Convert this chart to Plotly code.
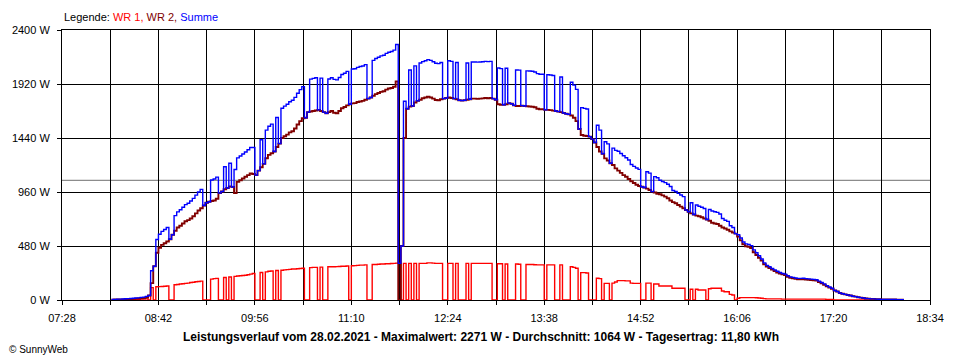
import plotly.graph_objects as go

# ---------------- data ----------------
START_MIN = 8 * 60 + 6      # first sample 08:06
STEP_MIN = 2                # sampling step in minutes

# WR 2 (dark red), W
wr2 = [
    3, 4, 5, 5, 6, 7, 8, 9, 10, 12,
    13, 15, 18, 22, 40, 150, 300, 420, 465, 490,
    505, 520, 540, 580, 615, 645, 660, 680, 700, 710,
    725, 745, 770, 795, 815, 840, 865, 874, 880, 885,
    900, 950, 965, 985, 995, 1010, 1005, 950, 1050, 1065,
    1080, 1095, 1110, 1125, 1120, 1110, 1150, 1180, 1210, 1260,
    1290, 1305, 1320, 1360, 1390, 1440, 1455, 1470, 1490, 1500,
    1525, 1560, 1590, 1615, 1620, 1670, 1675, 1680, 1685, 1690,
    1680, 1670, 1660, 1670, 1680, 1665, 1660, 1680, 1705, 1715,
    1730, 1740, 1748, 1750, 1760, 1765, 1770, 1780, 1790, 1800,
    1815, 1830, 1840, 1850, 1855, 1870, 1880, 1885, 1895, 1943,
    0, 480, 1440, 1700, 1719, 1724, 1755, 1770, 1780, 1793,
    1800, 1807, 1800, 1790, 1778, 1775, 1785, 1790, 1795, 1800,
    1795, 1790, 1785, 1775, 1772, 1775, 1780, 1785, 1790, 1790,
    1788, 1790, 1792, 1795, 1793, 1795, 1790, 1780, 1740, 1735,
    1735, 1740, 1750, 1745, 1730, 1725, 1725, 1728, 1724, 1722,
    1720, 1718, 1713, 1700, 1695, 1695, 1690, 1690, 1688, 1683,
    1680, 1674, 1670, 1662, 1655, 1650, 1640, 1620, 1590, 1520,
    1467, 1460, 1458, 1452, 1430, 1400, 1360, 1320, 1300, 1259,
    1240, 1215, 1200, 1170, 1150, 1130, 1110, 1095, 1075, 1055,
    1040, 1025, 1013, 1007, 1000, 990, 978, 963, 955, 945,
    940, 930, 919, 905, 885, 870, 860, 844, 830, 815,
    800, 785, 770, 760, 750, 745, 735, 725, 715, 705,
    687, 680, 675, 660, 645, 635, 625, 610, 600, 590,
    565, 530, 495, 478, 472, 462, 425, 400, 375, 350,
    318, 298, 285, 270, 258, 245, 235, 228, 222, 207,
    198, 193, 188, 184, 184, 185, 182, 180, 178, 175,
    172, 160, 148, 135, 122, 110, 100, 85, 75, 62,
    55, 50, 45, 40, 33, 30, 25, 21, 18, 14,
    12, 10, 10, 8, 7, 6, 5, 5, 4, 4,
    4, 3, 3, 3, 3,
]

# WR 1 (red), W
wr1 = [
    2, 2, 3, 3, 3, 4, 4, 5, 5, 6,
    6, 8, 8, 10, 0, 110, 0, 118, 119, 120,
    122, 125, 0, 0, 135, 138, 142, 145, 148, 150,
    155, 158, 162, 165, 168, 0, 0, 0, 186, 190,
    192, 0, 0, 200, 0, 205, 0, 210, 213, 215,
    218, 220, 225, 230, 235, 0, 0, 245, 0, 250,
    255, 258, 0, 262, 0, 265, 268, 270, 272, 275,
    276, 278, 280, 282, 0, 0, 288, 290, 290, 0,
    292, 0, 0, 295, 296, 296, 297, 298, 300, 300,
    302, 0, 305, 306, 308, 310, 310, 312, 0, 0,
    315, 316, 318, 320, 320, 322, 322, 324, 326, 328,
    326, 0, 326, 0, 326, 0, 326, 0, 326, 326,
    326, 330, 330, 328, 326, 326, 326, 0, 0, 326,
    326, 0, 326, 0, 0, 0, 326, 0, 326, 326,
    326, 326, 326, 326, 326, 326, 0, 0, 322, 322,
    0, 320, 0, 0, 0, 320, 318, 0, 0, 315,
    315, 315, 313, 312, 312, 312, 0, 312, 312, 312,
    0, 0, 312, 0, 0, 0, 296, 290, 282, 0,
    243, 243, 240, 0, 0, 0, 193, 190, 0, 148,
    148, 0, 150, 160, 172, 172, 172, 170, 170, 150,
    148, 148, 148, 0, 0, 150, 150, 0, 142, 142,
    124, 124, 124, 124, 124, 104, 104, 104, 104, 104,
    0, 0, 95, 0, 95, 89, 89, 89, 0, 100,
    104, 104, 104, 104, 80, 74, 74, 50, 44, 0,
    15, 21, 21, 21, 21, 21, 21, 20, 18, 15,
    12, 10, 10, 10, 10, 10, 10, 8, 8, 8,
    8, 8, 8, 8, 8, 8, 8, 8, 8, 8,
    8, 8, 8, 8, 6, 5, 4, 0, 0, 0,
    0, 0, 0, 0, 0, 0, 0, 0, 0, 0,
    0, 0, 0, 0, 0, 0, 0, 0, 0, 0,
    0, 0, 0, 0, 0,
]

AVERAGE_W = 1064
X_MIN, X_MAX = 7 * 60 + 28, 18 * 60 + 34     # 07:28 .. 18:34
GRID_STEP_MIN = 37
x_tick_labels = ["07:28", "08:42", "09:56", "11:10", "12:24",
                 "13:38", "14:52", "16:06", "17:20", "18:34"]
y_tick_values = [0, 480, 960, 1440, 1920, 2400]
y_tick_labels = ["0 W", "480 W", "960 W", "1440 W", "1920 W", "2400 W"]

title_text = ("Leistungsverlauf vom 28.02.2021 - Maximalwert: 2271 W - "
              "Durchschnitt: 1064 W - Tagesertrag: 11,80 kWh")

# ---------------- derived ----------------
minutes = [START_MIN + i * STEP_MIN for i in range(len(wr2))]
summe = [a + b for a, b in zip(wr1, wr2)]

tickvals = list(range(X_MIN, X_MAX + 1, GRID_STEP_MIN))
ticktext = []
for k, _ in enumerate(tickvals):
    ticktext.append(x_tick_labels[k // 2] if k % 2 == 0 else "")

FONT = "Liberation Sans, Arial, sans-serif"

fig = go.Figure()
fig.add_trace(go.Scatter(x=minutes, y=wr1, mode="lines", line_shape="hv",
                         line=dict(color="#FF0000", width=1.4), name="WR 1"))
fig.add_trace(go.Scatter(x=minutes, y=wr2, mode="lines", line_shape="hv",
                         line=dict(color="#800000", width=1.9), name="WR 2"))
fig.add_trace(go.Scatter(x=minutes, y=summe, mode="lines", line_shape="hv",
                         line=dict(color="#0000FF", width=1.4), name="Summe"))

fig.add_hline(y=AVERAGE_W, line=dict(color="#8C8C8C", width=1.2), layer="below")

fig.update_layout(
    width=960, height=360,
    margin=dict(l=60, r=30, t=30, b=60),
    paper_bgcolor="white", plot_bgcolor="white",
    font=dict(family=FONT, size=11, color="black"),
    showlegend=False,
)
fig.update_xaxes(
    range=[X_MIN, X_MAX], tickvals=tickvals, ticktext=ticktext,
    showgrid=True, gridcolor="black", gridwidth=1,
    showline=True, linecolor="black", linewidth=1, mirror=True,
    ticks="outside", ticklen=4, tickcolor="black", zeroline=False,
    ticklabelstandoff=4,
    tickfont=dict(family=FONT, size=11, color="black"),
)
fig.update_yaxes(
    range=[0, 2400], tickvals=y_tick_values, ticktext=y_tick_labels,
    showgrid=True, gridcolor="black", gridwidth=1,
    showline=True, linecolor="black", linewidth=1, mirror=True,
    ticks="outside", ticklen=4, tickcolor="black", zeroline=False,
    ticklabelstandoff=5,
    tickfont=dict(family=FONT, size=11, color="black"),
)

fig.add_annotation(
    xref="paper", yref="paper", x=0, y=1, yshift=13,
    xanchor="left", yanchor="middle", showarrow=False,
    text=('Legende: <span style="color:#FF0000">WR 1, </span>'
          '<span style="color:#800000">WR 2, </span>'
          '<span style="color:#0000FF">Summe</span>'),
    font=dict(family=FONT, size=11, color="black"),
)
fig.add_annotation(
    xref="paper", yref="paper", x=(480 - 60) / 870, y=0, yshift=-37,
    xanchor="center", yanchor="middle", showarrow=False,
    text="<b>" + title_text + "</b>",
    font=dict(family=FONT, size=12, color="black"),
)
fig.add_annotation(
    xref="paper", yref="paper", x=-55 / 870, y=0, yshift=-49,
    xanchor="left", yanchor="middle", showarrow=False,
    text="© SunnyWeb",
    font=dict(family=FONT, size=10, color="black"),
)

fig.write_html("out.html", config={"displayModeBar": False},
               post_script="document.body.style.margin='0';")
